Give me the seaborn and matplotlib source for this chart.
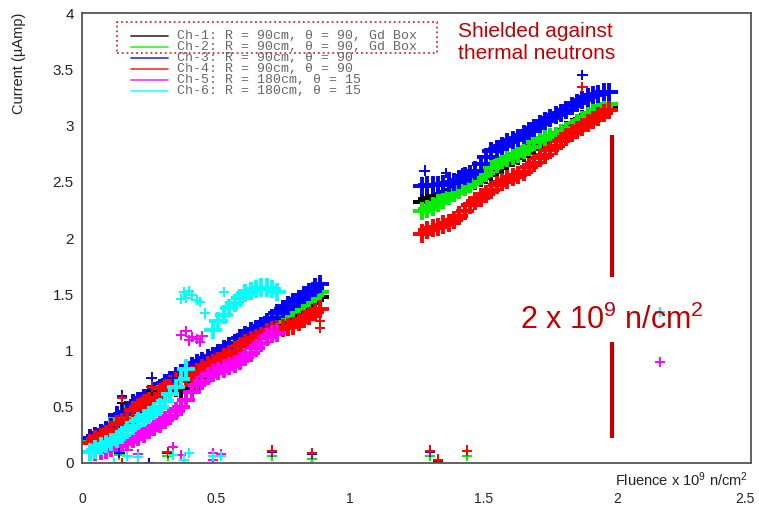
import numpy as np
import pandas as pd
import seaborn as sns
import matplotlib.pyplot as plt
from matplotlib.lines import Line2D
from matplotlib.patches import Rectangle
from matplotlib.transforms import ScaledTranslation

# channel names / colours
channels = ['Ch-1', 'Ch-2', 'Ch-3', 'Ch-4', 'Ch-5', 'Ch-6']
colors = ['#000000', '#00ee00', '#0000ff', '#ff0000', '#ff00ff', '#00ffff']
legend_labels = ['Ch-1: R = 90cm, \u03b8 = 90, Gd Box',
                 'Ch-2: R = 90cm, \u03b8 = 90, Gd Box',
                 'Ch-3: R = 90cm, \u03b8 = 90',
                 'Ch-4: R = 90cm, \u03b8 = 90',
                 'Ch-5: R = 180cm, \u03b8 = 15',
                 'Ch-6: R = 180cm, \u03b8 = 15']

# first irradiation period (fluence x 1e9 n/cm2)
x_low = [0.03, 0.05, 0.07, 0.09, 0.11, 0.13, 0.15, 0.17, 0.19, 0.21, 0.23,
         0.25, 0.27, 0.29, 0.31, 0.33, 0.35, 0.37, 0.39, 0.41, 0.43, 0.45,
         0.47, 0.49, 0.51, 0.53, 0.55, 0.57, 0.59, 0.61, 0.63, 0.65, 0.67,
         0.69, 0.71, 0.73, 0.75, 0.77, 0.79, 0.81, 0.83, 0.85, 0.87, 0.89]
ch1_low = [0.19, 0.21, 0.24, 0.26, 0.29, 0.34, 0.35, 0.36, 0.45, 0.48, 0.51,
           0.55, 0.58, 0.61, 0.64, 0.66, 0.67, 0.63, 0.64, 0.67, 0.71, 0.75,
           0.79, 0.83, 0.87, 0.91, 0.95, 0.99, 1.03, 1.06, 1.09, 1.12, 1.15,
           1.18, 1.21, 1.24, 1.27, 1.30, 1.33, 1.36, 1.39, 1.42, 1.45, 1.48]
ch2_low = [0.20, 0.22, 0.25, 0.27, 0.30, 0.39, 0.40, 0.41, 0.50, 0.52, 0.55,
           0.59, 0.62, 0.65, 0.69, 0.72, 0.75, 0.77, 0.79, 0.81, 0.84, 0.87,
           0.89, 0.91, 0.94, 0.97, 1.00, 1.03, 1.06, 1.09, 1.12, 1.15, 1.18,
           1.21, 1.25, 1.28, 1.31, 1.34, 1.37, 1.40, 1.43, 1.46, 1.49, 1.52]
ch3_low = [0.22, 0.24, 0.27, 0.29, 0.32, 0.43, 0.44, 0.45, 0.53, 0.55, 0.58,
           0.61, 0.64, 0.67, 0.71, 0.74, 0.77, 0.80, 0.83, 0.86, 0.89, 0.91,
           0.93, 0.95, 0.98, 1.01, 1.04, 1.07, 1.11, 1.14, 1.17, 1.19, 1.22,
           1.25, 1.29, 1.33, 1.37, 1.40, 1.43, 1.46, 1.49, 1.52, 1.56, 1.59]
ch4_low = [0.18, 0.21, 0.23, 0.26, 0.29, 0.35, 0.36, 0.38, 0.47, 0.50, 0.53,
           0.57, 0.60, 0.63, 0.67, 0.70, 0.73, 0.74, 0.76, 0.78, 0.81, 0.84,
           0.87, 0.89, 0.91, 0.94, 0.97, 1.00, 1.04, 1.07, 1.09, 1.11, 1.13,
           1.16, 1.18, 1.19, 1.20, 1.21, 1.22, 1.25, 1.28, 1.31, 1.34, 1.37]
ch5_low = [0.10, 0.10, 0.11, 0.12, 0.13, 0.15, 0.17, 0.19, 0.21, 0.23, 0.26,
           0.29, 0.32, 0.35, 0.38, 0.42, 0.46, 0.50, 0.56, 0.63, 0.69, 0.73,
           0.77, 0.80, 0.82, 0.84, 0.86, 0.88, 0.91, 0.94, 0.98, 1.02, 1.07,
           1.12, 1.15, 1.16, None, None, None, None, None, None, None, None]
ch6_low = [0.10, 0.12, 0.15, 0.17, 0.19, 0.21, 0.25, 0.29, 0.33, 0.37, 0.40,
           0.43, 0.46, 0.50, 0.55, 0.61, 0.68, 0.75, 0.84, None, None, None,
           None, 1.18, 1.26, 1.32, 1.38, 1.42, 1.47, 1.51, 1.53, 1.55, 1.56,
           1.56, 1.55, 1.52, None, None, None, None, None, None, None, None]

# second irradiation period
x_high = [1.27, 1.29, 1.31, 1.33, 1.35, 1.37, 1.39, 1.41, 1.43, 1.45, 1.47,
          1.49, 1.51, 1.53, 1.55, 1.57, 1.59, 1.61, 1.63, 1.65, 1.67, 1.69,
          1.71, 1.73, 1.75, 1.77, 1.79, 1.81, 1.83, 1.85, 1.87, 1.89, 1.91,
          1.93, 1.95, 1.97]
ch1_high = [2.32, 2.35, 2.36, 2.37, 2.39, 2.41, 2.43, 2.45, 2.47, 2.49, 2.51,
            2.53, 2.56, 2.59, 2.62, 2.65, 2.68, 2.71, 2.73, 2.76, 2.79, 2.82,
            2.85, 2.87, 2.89, 2.91, 2.93, 2.96, 2.99, 3.02, 3.06, 3.09, 3.11,
            3.13, 3.15, 3.16]
ch2_high = [2.24, 2.26, 2.28, 2.31, 2.34, 2.37, 2.40, 2.43, 2.45, 2.48, 2.52,
            2.55, 2.58, 2.62, 2.66, 2.69, 2.71, 2.73, 2.75, 2.78, 2.81, 2.85,
            2.87, 2.89, 2.90, 2.91, 2.93, 2.95, 2.98, 3.02, 3.05, 3.08, 3.11,
            3.14, 3.17, 3.19]
ch3_high = [2.46, 2.47, 2.47, 2.47, 2.48, 2.49, 2.50, 2.52, 2.55, 2.57, 2.60,
            2.66, 2.72, 2.77, 2.79, 2.82, 2.85, 2.87, 2.89, 2.92, 2.95, 2.98,
            3.01, 3.04, 3.07, 3.09, 3.11, 3.14, 3.17, 3.20, 3.23, 3.25, 3.27,
            3.28, 3.30, 3.30]
ch4_high = [2.04, 2.07, 2.09, 2.10, 2.12, 2.13, 2.16, 2.20, 2.24, 2.29, 2.33,
            2.36, 2.39, 2.43, 2.47, 2.50, 2.52, 2.54, 2.56, 2.59, 2.63, 2.67,
            2.71, 2.74, 2.78, 2.82, 2.86, 2.90, 2.93, 2.96, 2.99, 3.02, 3.05,
            3.08, 3.11, 3.14]

# isolated readings (spikes / dropouts)
extra_ch = ['Ch-1', 'Ch-1',
            'Ch-2', 'Ch-2', 'Ch-2', 'Ch-2', 'Ch-2', 'Ch-2', 'Ch-2',
            'Ch-3', 'Ch-3', 'Ch-3', 'Ch-3', 'Ch-3', 'Ch-3', 'Ch-3', 'Ch-3',
            'Ch-3', 'Ch-3', 'Ch-3', 'Ch-3', 'Ch-3', 'Ch-3',
            'Ch-4', 'Ch-4', 'Ch-4', 'Ch-4', 'Ch-4', 'Ch-4', 'Ch-4', 'Ch-4',
            'Ch-4', 'Ch-4', 'Ch-4', 'Ch-4',
            'Ch-5', 'Ch-5', 'Ch-5', 'Ch-5', 'Ch-5', 'Ch-5', 'Ch-5', 'Ch-5',
            'Ch-5', 'Ch-5', 'Ch-5', 'Ch-5', 'Ch-5', 'Ch-5', 'Ch-5',
            'Ch-6', 'Ch-6', 'Ch-6', 'Ch-6', 'Ch-6', 'Ch-6', 'Ch-6', 'Ch-6',
            'Ch-6', 'Ch-6', 'Ch-6', 'Ch-6', 'Ch-6', 'Ch-6', 'Ch-6', 'Ch-6',
            'Ch-6', 'Ch-6']
extra_x = [0.15, 0.26,
           0.14, 0.32, 0.71, 0.86, 1.30, 1.33, 1.44,
           0.15, 0.26, 0.34, 0.14, 0.25, 0.32, 0.71, 0.86, 1.30, 1.33,
           1.28, 1.36, 1.42, 1.87,
           0.15, 0.26, 0.15, 0.32, 0.71, 0.86, 1.30, 1.33, 1.44, 0.89,
           0.89, 1.87,
           0.17, 0.21, 0.34, 0.37, 0.49, 0.49, 0.52, 0.37, 0.39, 0.41,
           0.43, 0.45, 0.40, 0.44, 2.16,
           0.12, 0.17, 0.21, 0.34, 0.38, 0.40, 0.49, 0.52, 0.37, 0.38,
           0.40, 0.41, 0.43, 0.44, 0.46, 0.53, 0.39, 2.16]
extra_y = [0.53, 0.64,
           0.07, 0.06, 0.06, 0.04, 0.06, 0.00, 0.06,
           0.60, 0.76, 0.76, 0.09, 0.00, 0.09, 0.10, 0.08, 0.10, 0.02,
           2.60, 2.58, 2.58, 3.45,
           0.58, 0.68, 0.00, 0.10, 0.11, 0.09, 0.11, 0.03, 0.11, 1.26,
           1.20, 3.34,
           0.12, 0.08, 0.14, 0.07, 0.09, 0.03, 0.08, 1.14, 1.17, 1.12,
           1.10, 1.13, 1.09, 1.08, 0.90,
           0.00, 0.06, 0.05, 0.07, 0.03, 0.09, 0.06, 0.06, 1.46, 1.52,
           1.53, 1.49, 1.45, 1.43, 1.33, 1.52, 1.47, 1.34]

low_vals = [ch1_low, ch2_low, ch3_low, ch4_low, ch5_low, ch6_low]
high_vals = [ch1_high, ch2_high, ch3_high, ch4_high, None, None]

rows = []
for ch, lo, hi in zip(channels, low_vals, high_vals):
    for x, y in zip(x_low, lo):
        rows.append((ch, x, y))
    if hi is not None:
        for x, y in zip(x_high, hi):
            rows.append((ch, x, y))
bands = pd.DataFrame(rows, columns=['channel', 'fluence', 'current']).dropna()
spikes = pd.DataFrame({'channel': extra_ch, 'fluence': extra_x,
                       'current': extra_y})

sns.set_theme(style='white')
plt.rcParams['font.family'] = ['Liberation Sans', 'DejaVu Sans']
plt.rcParams['mathtext.fontset'] = 'custom'
plt.rcParams['mathtext.rm'] = 'Liberation Sans'
plt.rcParams['mathtext.it'] = 'Liberation Sans:italic'

W, H = 759, 508
fig = plt.figure(figsize=(W / 100, H / 100), dpi=100)
ax = fig.add_axes([82 / W, 1 - 463 / H, 669 / W, 450 / H])

sns.scatterplot(data=bands, x='fluence', y='current', hue='channel',
                hue_order=channels, palette=colors, marker='+', s=170,
                linewidth=2.8, legend=False, ax=ax)
sns.scatterplot(data=spikes, x='fluence', y='current', hue='channel',
                hue_order=channels, palette=colors, marker='+', s=55,
                linewidth=1.4, legend=False, ax=ax)

ax.set_xlim(0, 2.5)
ax.set_ylim(0, 4)
ax.set_xticks([0, 0.5, 1, 1.5, 2, 2.5])
ax.set_xticklabels(['0', '0.5', '1', '1.5', '2', '2.5'])
ax.set_xticks(np.arange(0, 2.51, 0.1), minor=True)
ax.set_yticks([0, 0.5, 1, 1.5, 2, 2.5, 3, 3.5, 4])
ax.set_yticklabels(['0', '0.5', '1', '1.5', '2', '2.5', '3', '3.5', '4'])
ax.set_yticks(np.arange(0, 4.01, 0.1), minor=True)
ax.tick_params(axis='x', which='major', direction='in', length=9, width=1.2,
               pad=21, labelsize=10, color='#444444', labelcolor='#222222')
ax.tick_params(axis='x', which='minor', direction='in', length=5, width=1.2,
               color='#444444')
ax.tick_params(axis='y', which='major', direction='in', length=15, width=1.2,
               pad=6, labelsize=11, color='#444444', labelcolor='#222222')
ax.tick_params(axis='y', which='minor', direction='in', length=8.5, width=1.2,
               color='#444444')
# last x label sits a little left so it is not cut at the figure edge
last = ax.get_xticklabels()[-1]
last.set_transform(last.get_transform() +
                   ScaledTranslation(-6 / 100, 0, fig.dpi_scale_trans))
ax.set_xlabel('')
ax.set_ylabel('')
for side in ['left', 'bottom', 'top', 'right']:
    ax.spines[side].set_color('#555555')
    ax.spines[side].set_linewidth(1.3)

fig.text(19 / W, 1 - 13 / H, 'Current (\u00b5Amp)', rotation=90,
         ha='center', va='top', fontsize=10.5, color='#222222')
fig.text(748 / W, 1 - 480 / H, 'Fluence x 10$^9$ n/cm$^2$', ha='right',
         va='center', fontsize=10.5, color='#222222')

# legend in ROOT style
for i, (lab, col) in enumerate(zip(legend_labels, colors)):
    yy = 1 - (36 + 11 * i) / H
    fig.add_artist(Line2D([131 / W, 168 / W], [yy, yy], color=col, lw=1.3,
                          alpha=0.75, transform=fig.transFigure))
    fig.text(177 / W, yy, lab, ha='left', va='center', fontsize=9.5,
             family='Liberation Mono', color='#666666')
fig.add_artist(Rectangle((117 / W, 1 - 53 / H), 320 / W, 31 / H, fill=False,
                         ec='#cc3333', ls=':', lw=1.3,
                         transform=fig.transFigure))

# annotations
dark_red = '#c00000'
fig.text(458 / W, 1 - 22 / H, 'Shielded against\nthermal neutrons',
         ha='left', va='top', fontsize=15, color=dark_red)
ax.vlines(1.98, 1.65, 2.92, color=dark_red, lw=3)
ax.vlines(1.98, 0.22, 1.08, color=dark_red, lw=3)
ax.text(1.98, 1.27, '2 x 10$^9$ n/cm$^2$', ha='center', va='center',
        fontsize=22, color=dark_red)

fig.savefig('out.png', dpi=100)
